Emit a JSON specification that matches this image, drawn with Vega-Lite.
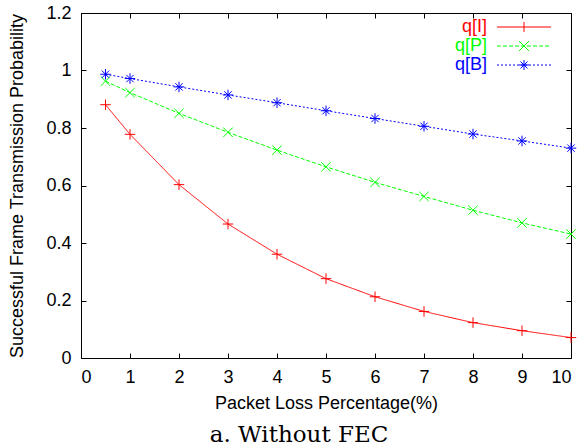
{
  "$schema": "https://vega.github.io/schema/vega-lite/v6.json",
  "width": 490,
  "height": 345,
  "autosize": {"type": "none"},
  "padding": {"left": 81, "top": 13, "right": 11, "bottom": 89},
  "background": "white",
  "data": {"values": [
    {"series": "q[I]", "loss": 0.5, "p": 0.881},
    {"series": "q[I]", "loss": 1, "p": 0.778},
    {"series": "q[I]", "loss": 2, "p": 0.603},
    {"series": "q[I]", "loss": 3, "p": 0.466},
    {"series": "q[I]", "loss": 4, "p": 0.361},
    {"series": "q[I]", "loss": 5, "p": 0.276},
    {"series": "q[I]", "loss": 6, "p": 0.213},
    {"series": "q[I]", "loss": 7, "p": 0.162},
    {"series": "q[I]", "loss": 8, "p": 0.123},
    {"series": "q[I]", "loss": 9, "p": 0.095},
    {"series": "q[I]", "loss": 10, "p": 0.071},
    {"series": "q[P]", "loss": 0.5, "p": 0.963},
    {"series": "q[P]", "loss": 1, "p": 0.923},
    {"series": "q[P]", "loss": 2, "p": 0.851},
    {"series": "q[P]", "loss": 3, "p": 0.785},
    {"series": "q[P]", "loss": 4, "p": 0.723},
    {"series": "q[P]", "loss": 5, "p": 0.665},
    {"series": "q[P]", "loss": 6, "p": 0.611},
    {"series": "q[P]", "loss": 7, "p": 0.562},
    {"series": "q[P]", "loss": 8, "p": 0.514},
    {"series": "q[P]", "loss": 9, "p": 0.470},
    {"series": "q[P]", "loss": 10, "p": 0.431},
    {"series": "q[B]", "loss": 0.5, "p": 0.987},
    {"series": "q[B]", "loss": 1, "p": 0.972},
    {"series": "q[B]", "loss": 2, "p": 0.943},
    {"series": "q[B]", "loss": 3, "p": 0.915},
    {"series": "q[B]", "loss": 4, "p": 0.888},
    {"series": "q[B]", "loss": 5, "p": 0.860},
    {"series": "q[B]", "loss": 6, "p": 0.833},
    {"series": "q[B]", "loss": 7, "p": 0.806},
    {"series": "q[B]", "loss": 8, "p": 0.779},
    {"series": "q[B]", "loss": 9, "p": 0.755},
    {"series": "q[B]", "loss": 10, "p": 0.730}
  ]},
  "config": {
    "view": {"stroke": "black", "strokeWidth": 1},
    "font": "Liberation Sans",
    "axis": {
      "domain": false,
      "grid": false,
      "tickColor": "black",
      "tickSize": -5,
      "tickWidth": 1,
      "labelFont": "Liberation Sans",
      "labelFontSize": 18,
      "labelColor": "black",
      "titleFont": "Liberation Sans",
      "titleFontSize": 18,
      "titleFontWeight": "normal",
      "titleColor": "black"
    }
  },
  "title": {
    "text": "a. Without FEC",
    "orient": "bottom",
    "anchor": "middle",
    "font": "DejaVu Serif",
    "fontSize": 23,
    "fontWeight": "normal",
    "color": "black",
    "offset": 12,
    "dx": -27
  },
  "layer": [
    {
      "mark": {"type": "line", "strokeWidth": 1},
      "encoding": {
        "x": {"field": "loss", "type": "quantitative", "scale": {"domain": [0, 10]},
              "axis": {"orient": "bottom", "values": [0,1,2,3,4,5,6,7,8,9,10], "title": "Packet Loss Percentage(%)", "labelPadding": 15, "titlePadding": 8}},
        "y": {"field": "p", "type": "quantitative", "scale": {"domain": [0, 1.2]},
              "axis": {"orient": "left", "values": [0,0.2,0.4,0.6,0.8,1,1.2], "format": "~g", "title": "Successful Frame Transmission Probability", "labelPadding": 15, "titlePadding": 19}},
        "color": {"field": "series", "type": "nominal",
                  "scale": {"domain": ["q[I]", "q[P]", "q[B]"], "range": ["#ff0000", "#00ff00", "#0000ff"]}},
        "strokeDash": {"field": "series", "type": "nominal",
                       "scale": {"range": [[2, 2], [1, 0], [4, 2]]},
                       "legend": null}
      }
    },
    {
      "transform": [{"filter": "datum.series === 'q[I]'"}],
      "mark": {"type": "point", "shape": "M-1,0H1M0,-1V1", "size": 110, "filled": false, "strokeWidth": 1, "opacity": 1},
      "encoding": {
        "x": {"field": "loss", "type": "quantitative",
              "axis": {"orient": "top", "values": [0,1,2,3,4,5,6,7,8,9,10], "labels": false, "title": null}},
        "y": {"field": "p", "type": "quantitative",
              "axis": {"orient": "right", "values": [0,0.2,0.4,0.6,0.8,1,1.2], "labels": false, "title": null}},
        "color": {"field": "series", "type": "nominal"}
      }
    },
    {
      "transform": [{"filter": "datum.series === 'q[P]'"}],
      "mark": {"type": "point", "shape": "M-0.9,-0.9L0.9,0.9M-0.9,0.9L0.9,-0.9", "size": 110, "filled": false, "strokeWidth": 1, "opacity": 1},
      "encoding": {
        "x": {"field": "loss", "type": "quantitative", "axis": null},
        "y": {"field": "p", "type": "quantitative", "axis": null},
        "color": {"field": "series", "type": "nominal"}
      }
    },
    {
      "transform": [{"filter": "datum.series === 'q[B]'"}],
      "mark": {"type": "point", "shape": "M-1,0H1M0,-1V1M-0.7,-0.7L0.7,0.7M-0.7,0.7L0.7,-0.7", "size": 110, "filled": false, "strokeWidth": 1, "opacity": 1},
      "encoding": {
        "x": {"field": "loss", "type": "quantitative", "axis": null},
        "y": {"field": "p", "type": "quantitative", "axis": null},
        "color": {"field": "series", "type": "nominal"}
      }
    },
    {
      "transform": [{"filter": "datum.loss < 0"}],
      "mark": {"type": "point", "filled": false, "strokeWidth": 1},
      "encoding": {
        "x": {"field": "loss", "type": "quantitative", "axis": null},
        "y": {"field": "p", "type": "quantitative", "axis": null},
        "color": {"field": "series", "type": "nominal"},
        "shape": {"field": "series", "type": "nominal",
                  "scale": {"domain": ["q[I]", "q[P]", "q[B]"],
                            "range": [
                              "M-5.4,0H5.4M0,-1V1",
                              "M-5.4,0h0.8M-4.2,0h0.8M-3,0h0.8M-1.8,0h0.8M-0.6,0h0.8M0.6,0h0.8M1.8,0h0.8M3,0h0.8M4.2,0h0.8M-1,-1L1,1M-1,1L1,-1",
                              "M-5.4,0h0.4M-4.6,0h0.4M-3.8,0h0.4M-3,0h0.4M-2.2,0h0.4M-1.4,0h0.4M-0.6,0h0.4M0.2,0h0.4M1,0h0.4M1.8,0h0.4M2.6,0h0.4M3.4,0h0.4M4.2,0h0.4M5,0h0.4M-1,0H1M0,-1V1M-0.7,-0.7L0.7,0.7M-0.7,0.7L0.7,-0.7"
                            ]},
                  "legend": {
                    "title": null,
                    "orient": "none",
                    "legendX": 434,
                    "legendY": 5,
                    "padding": 0,
                    "rowPadding": 1,
                    "labelAlign": "right",
                    "labelOffset": -46,
                    "labelFont": "Liberation Sans",
                    "labelFontSize": 18,
                    "labelColor": {"expr": "scale('color', datum.value)"},
                    "symbolSize": 100,
                    "symbolStrokeWidth": 1,
                    "symbolOpacity": 1
                  }}
      }
    }
  ],
  "resolve": {"axis": {"x": "independent", "y": "independent"}}
}
